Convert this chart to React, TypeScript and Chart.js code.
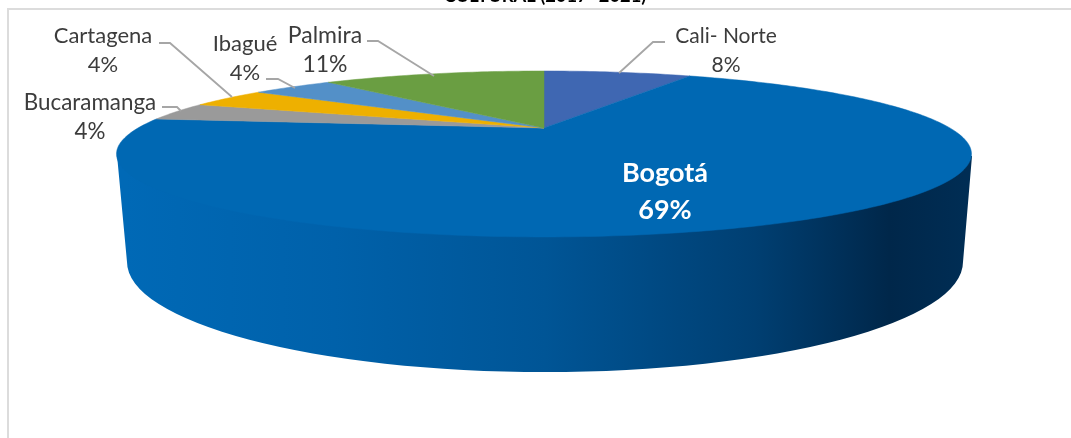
import React, { useEffect, useRef } from "react";
import { Chart, registerables } from "chart.js";

Chart.register(...registerables);

const categories = ["Cali- Norte", "Bogotá", "Bucaramanga", "Cartagena", "Ibagué", "Palmira"];
const shares = [7.6, 69.4, 3.6, 3.9, 4.1, 11.4];
const sliceColors = ["#3f67b2", "#0068b3", "#9a9a9a", "#eeb000", "#5390c8", "#6a9e42"];
const titleTail = "CULTURAL (2017- 2021)";

// label anchors: one row per category, in the same order
const labelX = [726, 665, 90, 103, 245, 325];
const labelY = [36, 173, 103, 36, 44, 36];
const labelGap = [29, 37, 29, 29, 29, 29];
const labelSize = [21, 27, 22.4, 22, 22, 23];
const leaders: number[][][] = [
  [[665, 42], [653, 42], [619, 73]],
  [],
  [[162, 107], [177, 107], [181, 111]],
  [[159, 43], [170, 43], [232, 97]],
  [[266, 79], [278, 79], [295, 88]],
  [[367, 41], [378, 41], [434, 76]],
];

const CX = 544;
const CY = 128;
const A = 74.85;
const B = 406;
const K = -0.313;

function project(angle: number): [number, number] {
  const u = Math.cos(angle);
  const v = Math.sin(angle);
  const d = 1 + K * v;
  return [CX + (B * u) / d, CY + (A * v) / d];
}

const pie3d = {
  id: "pie3d",
  beforeDatasetDraw(chart: any) {
    const ctx: CanvasRenderingContext2D = chart.ctx;
    const arcs = chart.getDatasetMeta(0).data;

    // frame and cropped title
    ctx.save();
    ctx.strokeStyle = "#dcdcdc";
    ctx.lineWidth = 2;
    ctx.beginPath();
    ctx.moveTo(8, 438);
    ctx.lineTo(8, 9);
    ctx.lineTo(1071, 9);
    ctx.stroke();
    ctx.fillStyle = "#000";
    ctx.font = "bold 18.3px Lato";
    ctx.textAlign = "center";
    ctx.textBaseline = "alphabetic";
    ctx.fillText(titleTail, 545, 2);

    // side wall
    const g = ctx.createLinearGradient(125, 0, 965, 0);
    g.addColorStop(0, "#0069b6");
    g.addColorStop(0.25, "#0061aa");
    g.addColorStop(0.5, "#005596");
    g.addColorStop(0.75, "#003f72");
    g.addColorStop(0.91, "#00274a");
    g.addColorStop(1, "#002d54");
    ctx.fillStyle = g;
    ctx.beginPath();
    ctx.moveTo(117, 155);
    ctx.lineTo(127, 262);
    ctx.ellipse(545, 262, 418, 110, 0, Math.PI, 0, true);
    ctx.lineTo(972, 156);
    ctx.closePath();
    ctx.fill();

    // top face: wedges from the controller's angles
    arcs.forEach((arc: any, i: number) => {
      ctx.fillStyle = sliceColors[i];
      ctx.strokeStyle = sliceColors[i];
      ctx.lineWidth = 0.5;
      ctx.beginPath();
      ctx.moveTo(CX, CY);
      const span = arc.endAngle - arc.startAngle;
      const steps = Math.max(8, Math.ceil(span * 60));
      for (let s = 0; s <= steps; s++) {
        const [x, y] = project(arc.startAngle + (span * s) / steps);
        ctx.lineTo(x, y);
      }
      ctx.closePath();
      ctx.fill();
      ctx.stroke();
    });

    // leaders and labels
    const total = shares.reduce((a, b) => a + b, 0);
    categories.forEach((name, i) => {
      const pts = leaders[i];
      if (pts.length) {
        ctx.strokeStyle = "#a6a6a6";
        ctx.lineWidth = 1.8;
        ctx.beginPath();
        pts.forEach(([x, y], j) => (j ? ctx.lineTo(x, y) : ctx.moveTo(x, y)));
        ctx.stroke();
      }
      const big = name === "Bogotá";
      ctx.fillStyle = big ? "#ffffff" : "#3c3c3c";
      ctx.font = `${big ? "bold " : ""}${labelSize[i]}px Lato`;
      ctx.textAlign = "center";
      ctx.textBaseline = "middle";
      ctx.fillText(name, labelX[i], labelY[i]);
      ctx.fillText(Math.round((shares[i] / total) * 100) + "%", labelX[i], labelY[i] + labelGap[i]);
    });
    ctx.restore();
    return false;
  },
};

export default function App() {
  const ref = useRef<HTMLCanvasElement>(null);
  useEffect(() => {
    document.body.style.margin = "0";
    document.body.style.background = "#fff";
    const chart = new Chart(ref.current!, {
      type: "pie",
      data: {
        labels: categories,
        datasets: [{ data: shares, backgroundColor: sliceColors, borderWidth: 0 }],
      },
      options: {
        responsive: false,
        animation: false,
        layout: { padding: 0 },
        plugins: { legend: { display: false }, tooltip: { enabled: false } },
      },
      plugins: [pie3d],
    } as any);
    return () => chart.destroy();
  }, []);
  return (
    <canvas
      ref={ref}
      width={1071}
      height={438}
      style={{ display: "block", width: 1071, height: 438, filter: "blur(0.4px)" }}
    />
  );
}
